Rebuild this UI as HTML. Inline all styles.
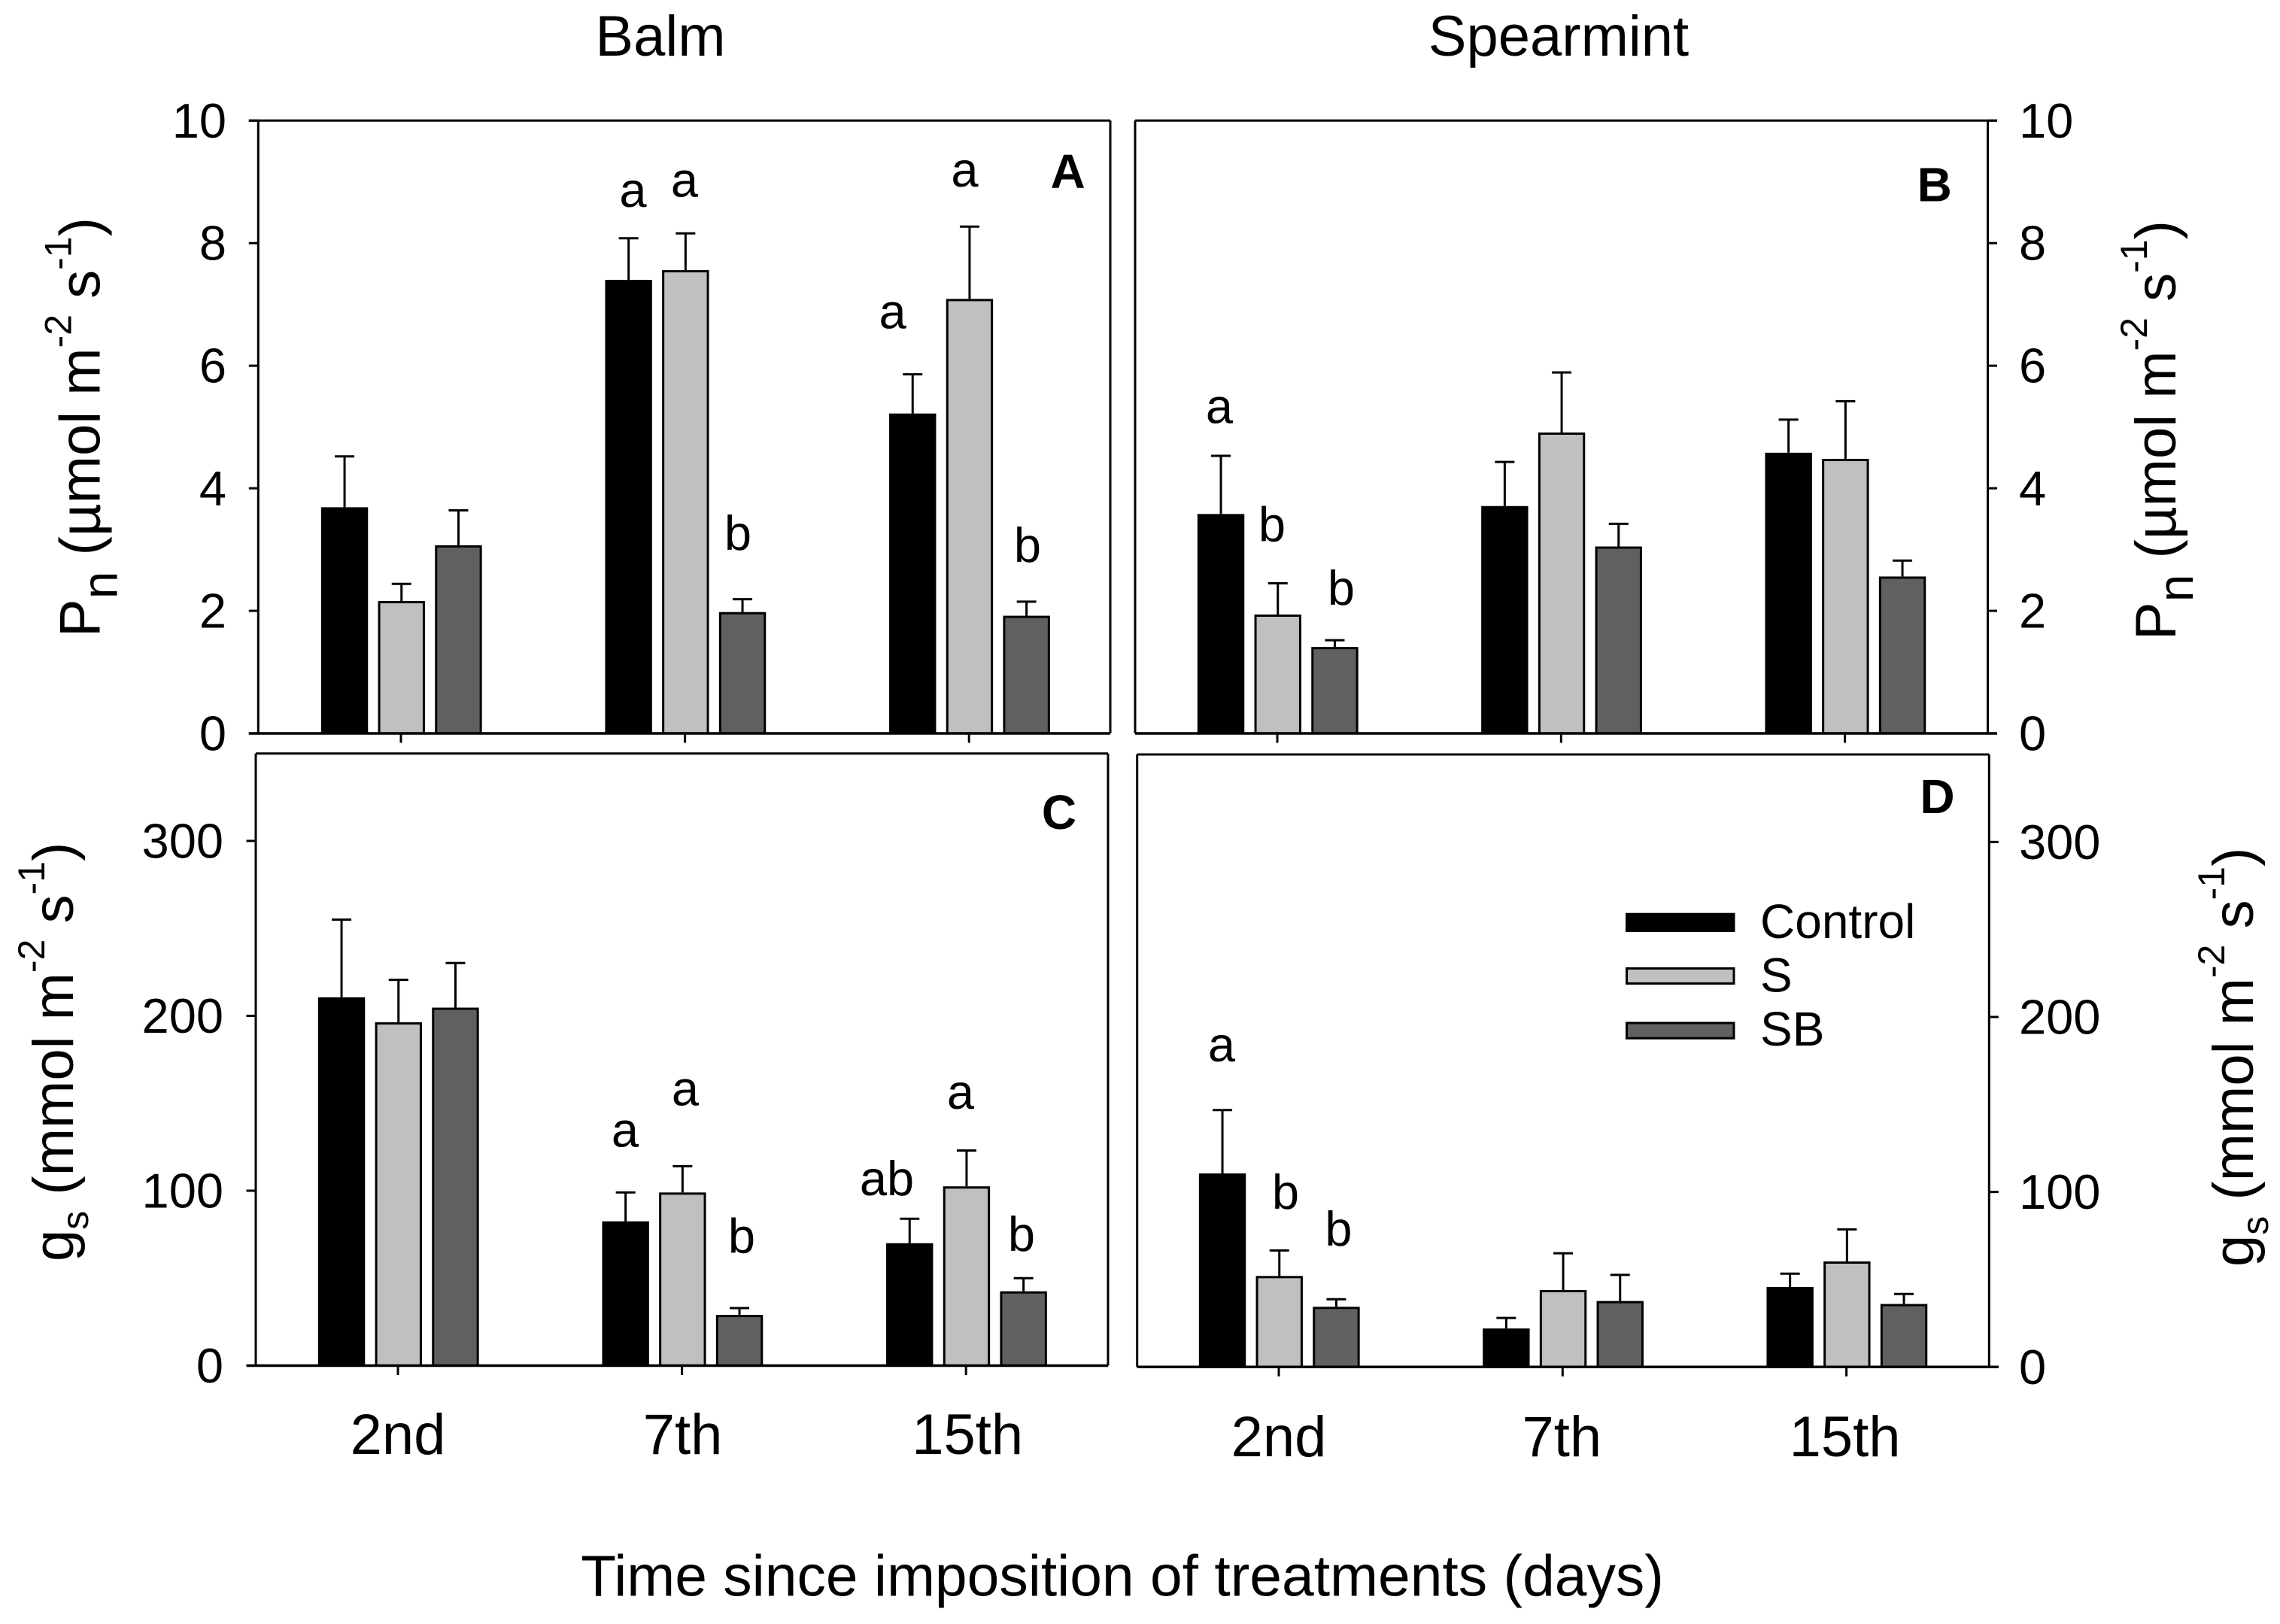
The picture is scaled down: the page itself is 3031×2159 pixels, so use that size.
<!DOCTYPE html>
<html lang="en">
<head>
<meta charset="utf-8">
<title>Pn and gs of balm and spearmint</title>
<style>
html,body{margin:0;padding:0;background:#fff;}
svg{display:block;font-family:"Liberation Sans",Arial,sans-serif;fill:#000;}
</style>
</head>
<body>
<svg id="chart" xmlns="http://www.w3.org/2000/svg" width="3031" height="2159" viewBox="0 0 3031 2159">
<rect x="0" y="0" width="3031" height="2159" fill="#fff"/>

<text x="878" y="74" font-size="76" text-anchor="middle">Balm</text>
<text x="2072" y="74" font-size="76" text-anchor="middle">Spearmint</text>

<text transform="translate(132.6,847) rotate(-90)" font-size="76">P<tspan font-size="66" dy="23">n</tspan><tspan dy="-23"> (µmol m</tspan><tspan font-size="50" dy="-38">-2</tspan><tspan dy="38"> s</tspan><tspan font-size="50" dy="-38">-1</tspan><tspan dy="38">)</tspan></text>
<text transform="translate(2892,851) rotate(-90)" font-size="76">P<tspan font-size="66" dy="23">n</tspan><tspan dy="-23"> (µmol m</tspan><tspan font-size="50" dy="-38">-2</tspan><tspan dy="38"> s</tspan><tspan font-size="50" dy="-38">-1</tspan><tspan dy="38">)</tspan></text>
<text transform="translate(97,1677) rotate(-90)" font-size="76">g<tspan font-size="50" dy="20">s</tspan><tspan dy="-20"> (mmol m</tspan><tspan font-size="50" dy="-38">-2</tspan><tspan dy="38"> s</tspan><tspan font-size="50" dy="-38">-1</tspan><tspan dy="38">)</tspan></text>
<text transform="translate(2995,1684) rotate(-90)" font-size="76">g<tspan font-size="50" dy="20">s</tspan><tspan dy="-20"> (mmol m</tspan><tspan font-size="50" dy="-38">-2</tspan><tspan dy="38"> s</tspan><tspan font-size="50" dy="-38">-1</tspan><tspan dy="38">)</tspan></text>

<text x="1492" y="2121.7" font-size="76.8" text-anchor="middle">Time since imposition of treatments (days)</text>

<g id="plots"></g>

<g font-size="64" font-weight="bold" text-anchor="middle">
<text x="1419.6" y="250">A</text>
<text x="2571.7" y="267.7">B</text>
<text x="1408" y="1102">C</text>
<text x="2575.5" y="1081">D</text>
</g>

<g font-size="65" text-anchor="middle">
<text x="841.5" y="275">a</text>
<text x="910" y="261.7">a</text>
<text x="981" y="731">b</text>
<text x="1186.6" y="436.7">a</text>
<text x="1282.5" y="248">a</text>
<text x="1366" y="747">b</text>
</g>
<g font-size="65" text-anchor="middle">
<text x="1621" y="562.5">a</text>
<text x="1691" y="719.5">b</text>
<text x="1783" y="804">b</text>
</g>
<g font-size="65" text-anchor="middle">
<text x="831" y="1524.5">a</text>
<text x="911" y="1469.4">a</text>
<text x="986" y="1665.3">b</text>
<text x="1179" y="1589">ab</text>
<text x="1277" y="1474">a</text>
<text x="1358" y="1663">b</text>
</g>
<g font-size="65" text-anchor="middle">
<text x="1624" y="1411">a</text>
<text x="1709" y="1607">b</text>
<text x="1779.5" y="1656">b</text>
</g>

<g font-size="64">
<g>
<rect x="2162.5" y="1215.2" width="142.5" height="22.3" fill="#000" stroke="#000" stroke-width="3"/>
<text x="2340" y="1246.8">Control</text>
</g>
<g>
<rect x="2162.5" y="1287.5" width="142.5" height="20" fill="#c0c0c0" stroke="#000" stroke-width="3"/>
<text x="2340" y="1318.5">S</text>
</g>
<g>
<rect x="2162.5" y="1360" width="142.5" height="20.3" fill="#606060" stroke="#000" stroke-width="3"/>
<text x="2340" y="1390">SB</text>
</g>
</g>
</svg>

<script>
// ---- chart data ----
const categories = ['2nd', '7th', '15th'];
const seriesNames = ['control', 's', 'sb'];
const pnTickLabels = [0, 2, 4, 6, 8, 10];
const gsTickLabels = [0, 100, 200, 300];

const balmPnControl = [3.69, 7.40, 5.22];
const balmPnS = [2.16, 7.56, 7.09];
const balmPnSB = [3.07, 1.98, 1.92];
const balmPnControlErr = [0.83, 0.68, 0.64];
const balmPnSErr = [0.28, 0.60, 1.18];
const balmPnSBErr = [0.57, 0.21, 0.23];

const spearmintPnControl = [3.58, 3.71, 4.58];
const spearmintPnS = [1.94, 4.91, 4.48];
const spearmintPnSB = [1.41, 3.05, 2.56];
const spearmintPnControlErr = [0.95, 0.72, 0.54];
const spearmintPnSErr = [0.51, 0.98, 0.94];
const spearmintPnSBErr = [0.11, 0.37, 0.26];

const balmGsControl = [210.6, 82.5, 70];
const balmGsS = [196.3, 99, 102.5];
const balmGsSB = [204.7, 29, 42.5];
const balmGsControlErr = [44.4, 16.5, 14];
const balmGsSErr = [24.3, 15, 20.5];
const balmGsSBErr = [25.5, 3.9, 7.5];

const spearmintGsControl = [110.6, 22, 45.7];
const spearmintGsS = [52, 44, 60.3];
const spearmintGsSB = [34.4, 37.7, 36];
const spearmintGsControlErr = [36.2, 6, 7.6];
const spearmintGsSErr = [14.6, 21, 18.3];
const spearmintGsSBErr = [4.3, 14.9, 5.7];

// ---- drawing ----
const NS = 'http://www.w3.org/2000/svg';
const fills = ['#000000', '#c0c0c0', '#606060'];
const BAR_STEP = 75.7, BAR_W = 59.4, CAP = 26, TICK = 12.5, LW = 3;

function add(parent, tag, attrs) {
  const n = document.createElementNS(NS, tag);
  for (const k in attrs) n.setAttribute(k, attrs[k]);
  parent.appendChild(n);
  return n;
}

function drawPanel(p) {
  const root = document.getElementById('plots');
  const g = add(root, 'g', {});
  
  

  const y = v => p.bottom - (v / p.yMax) * (p.bottom - p.top);
  const x = i => p.firstTick + i * p.tickStep;

  // frame
  const frame = add(g, 'path', {
    d: 'M' + p.left + ' ' + p.bottom + 'V' + p.top + 'M' + p.right + ' ' + p.top + 'V' + p.bottom +
       'M' + (p.side === 'left' ? p.left - (p.topExt ? TICK : 0) : p.left) + ' ' + p.top +
       'H' + (p.side === 'right' ? p.right + (p.topExt ? TICK : 0) : p.right),
    fill: 'none', stroke: '#000', 'stroke-width': LW
  });
  
  

  // bars
  p.values.forEach((vals, s) => {
    vals.forEach((v, i) => {
      const cx = x(i) + (s - 1) * BAR_STEP + 0.75;
      const tip = v + p.errors[s][i];

      const err = add(g, 'path', {
        d: 'M' + cx + ' ' + y(v) + 'V' + y(tip) + 'M' + (cx - CAP / 2) + ' ' + y(tip) + 'H' + (cx + CAP / 2),
        fill: 'none', stroke: '#000', 'stroke-width': LW
      });
      
      

      const bar = add(g, 'rect', {
        x: cx - BAR_W / 2, y: y(v) + 1.5, width: BAR_W,
        height: Math.max(0, p.bottom - y(v) - 1.5),
        fill: fills[s], stroke: '#000', 'stroke-width': LW
      });
      
      
    });
  });

  // baseline
  const x0 = p.side === 'left' ? p.left - TICK : p.left;
  const x1 = p.side === 'right' ? p.right + TICK : p.right;
  const base = add(g, 'line', { x1: x0, x2: x1, y1: p.bottom, y2: p.bottom, stroke: '#000', 'stroke-width': LW + 0.5 });
  
  

  // x ticks
  categories.forEach((c, i) => {
    const t = add(g, 'line', { x1: x(i), x2: x(i), y1: p.bottom, y2: p.bottom + TICK, stroke: '#000', 'stroke-width': LW });
    
    
    if (p.xLabelY) {
      const l = add(g, 'text', { x: x(i) + (i === 0 ? 0 : p.labelShift * i), y: p.xLabelY, 'font-size': 76, 'text-anchor': 'middle' });
      l.textContent = c;
      
      
    }
  });

  // y ticks
  p.ticks.forEach(v => {
    const tx = p.side === 'left' ? p.left : p.right;
    const dir = p.side === 'left' ? -1 : 1;
    const t = add(g, 'line', { x1: tx, x2: tx + dir * TICK, y1: y(v), y2: y(v), stroke: '#000', 'stroke-width': LW });
    
    
    const l = add(g, 'text', {
      x: p.labelX, y: y(v) + 22.5, 'font-size': 65,
      'text-anchor': p.side === 'left' ? 'end' : 'start'
    });
    l.textContent = String(v);
    
    
  });
}

drawPanel({
  id: 'a', side: 'left', left: 343.3, right: 1476, top: 160.3, bottom: 975, yMax: 10, topExt: true,
  firstTick: 533, tickStep: 377.6, labelX: 301, ticks: pnTickLabels,
  values: [balmPnControl, balmPnS, balmPnSB],
  errors: [balmPnControlErr, balmPnSErr, balmPnSBErr]
});
drawPanel({
  id: 'b', side: 'right', left: 1509, right: 2642.5, top: 160.3, bottom: 975, yMax: 10, topExt: true,
  firstTick: 1698, tickStep: 377.3, labelX: 2684, ticks: pnTickLabels,
  values: [spearmintPnControl, spearmintPnS, spearmintPnSB],
  errors: [spearmintPnControlErr, spearmintPnSErr, spearmintPnSBErr]
});
drawPanel({
  id: 'c', side: 'left', left: 340, right: 1473, top: 1001.7, bottom: 1815.5, yMax: 350, topExt: false,
  firstTick: 529, tickStep: 377.6, labelX: 297, xLabelY: 1933, labelShift: 1, ticks: gsTickLabels,
  values: [balmGsControl, balmGsS, balmGsSB],
  errors: [balmGsControlErr, balmGsSErr, balmGsSBErr]
});
drawPanel({
  id: 'd', side: 'right', left: 1511.7, right: 2644.3, top: 1003, bottom: 1817.3, yMax: 350, topExt: false,
  firstTick: 1700, tickStep: 377.3, labelX: 2684, xLabelY: 1936, labelShift: -1, ticks: gsTickLabels,
  values: [spearmintGsControl, spearmintGsS, spearmintGsSB],
  errors: [spearmintGsControlErr, spearmintGsSErr, spearmintGsSBErr]
});
</script>
</body>
</html>
